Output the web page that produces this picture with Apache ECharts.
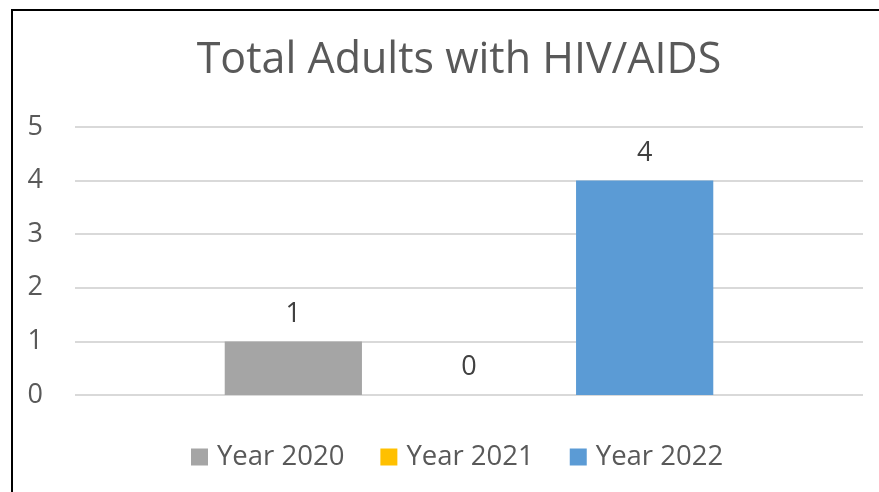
<!DOCTYPE html>
<html><head><meta charset="utf-8">
<script src="https://cdn.jsdelivr.net/npm/echarts@6/dist/echarts.min.js"></script>
<style>html,body{margin:0;padding:0;background:#fff}#c{width:879px;height:492px}</style>
</head><body><div id="c"></div>
<script>
const titleText = 'Total Adults with HIV/AIDS';
const categories = [''];
const seriesNames = ['Year 2020', 'Year 2021', 'Year 2022'];
const seriesValues = [[1], [0], [4]];
const seriesColors = ['#A5A5A5', '#FFC000', '#5B9BD5'];
const yTicks = [0, 1, 2, 3, 4, 5];

const FONT = '"Open Sans", "Noto Sans", sans-serif';
const chart = echarts.init(document.getElementById('c'), null, {renderer: 'canvas'});
chart.setOption({
  animation: false,
  backgroundColor: '#fff',
  title: {
    text: titleText, left: 454, top: 34, textAlign: 'center',
    textStyle: {fontFamily: FONT, fontSize: 43, fontWeight: 'normal', color: '#595959'}
  },
  legend: {
    data: seriesNames, left: 191, top: 443, padding: 0, itemWidth: 17, itemHeight: 17, itemGap: 36,
    icon: 'rect',
    textStyle: {fontFamily: FONT, fontSize: 27.5, color: '#595959', padding: [0, 0, 0, 4]}
  },
  grid: {left: 75, right: 16, top: 127, bottom: 97, containLabel: false},
  xAxis: {
    type: 'category', data: categories,
    axisLine: {show: false}, axisTick: {show: false}, axisLabel: {show: false}
  },
  yAxis: {
    type: 'value', min: yTicks[0], max: yTicks[yTicks.length - 1], interval: 1,
    axisLine: {show: false}, axisTick: {show: false},
    axisLabel: {fontFamily: FONT, fontSize: 27, color: '#595959', margin: 32},
    splitLine: {lineStyle: {color: '#D9D9D9', width: 2}}
  },
  series: seriesNames.map((n, i) => ({
    name: n, type: 'bar', data: seriesValues[i],
    barGap: '28%', barCategoryGap: '38%',
    itemStyle: {color: seriesColors[i]},
    label: {show: true, position: 'top', distance: 14, fontFamily: FONT, fontSize: 27, color: '#404040'}
  })),
  graphic: [{
    type: 'rect', shape: {x: 12, y: 10, width: 1000, height: 600},
    style: {fill: 'none', stroke: '#000', lineWidth: 2}, silent: true, z: 100
  }]
});
</script></body></html>
